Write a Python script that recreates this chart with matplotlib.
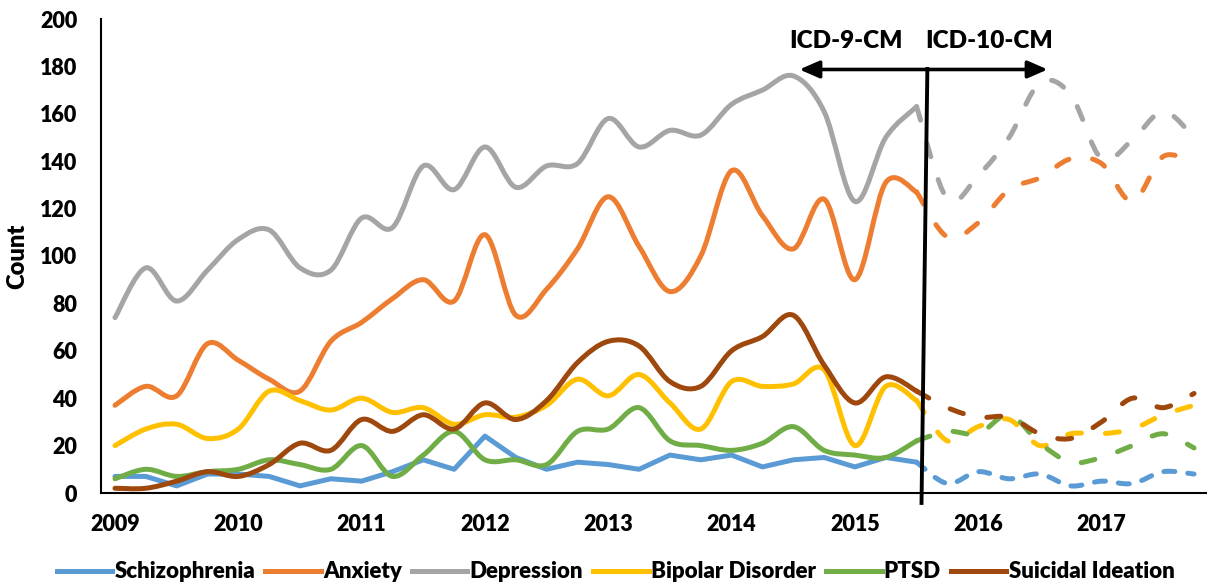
import numpy as np
import matplotlib
matplotlib.use("Agg")
import matplotlib.pyplot as plt
from matplotlib.path import Path
from matplotlib.patches import PathPatch
from matplotlib.lines import Line2D

plt.rcParams['font.family'] = ['Lato', 'DejaVu Sans']
plt.rcParams['font.weight'] = 'heavy'

# quarterly counts, 2009 Q1 .. 2017 Q4 (index 26 = 2015 Q3 is shared by both codings)
years = ['2009', '2010', '2011', '2012', '2013', '2014', '2015', '2016', '2017']
names = ['Schizophrenia', 'Anxiety', 'Depression', 'Bipolar Disorder', 'PTSD',
         'Suicidal Ideation']
colors = ['#5B9BD5', '#ED7D31', '#A5A5A5', '#FFC000', '#70AD47', '#9E480E']

schizophrenia = [7, 7, 3, 8, 8, 7, 3, 6, 5, 9, 14, 10, 24, 15, 10, 13, 12, 10,
                 16, 14, 16, 11, 14, 15, 11, 15, 13, 4, 9, 6, 8, 3, 5, 4, 9, 8]
anxiety = [37, 45, 41, 63, 56, 48, 43, 64, 72, 82, 90, 81, 109, 75, 86, 103, 125,
           104, 85, 100, 136, 117, 103, 124, 90, 131, 127,
           108, 114, 128, 133, 141, 139, 123, 142, 139]
depression = [74, 95, 81, 94, 107, 111, 95, 94, 116, 112, 138, 128, 146, 129,
              138, 139, 158, 146, 153, 151, 164, 170, 176, 161, 123, 150, 163,
              124, 134, 150, 173, 168, 141, 149, 161, 150]
bipolar = [20, 27, 29, 23, 27, 43, 39, 35, 40, 34, 36, 29, 33, 32, 37, 48, 41,
           50, 38, 27, 47, 45, 46, 52, 20, 45, 39, 22, 28, 31, 20, 25, 25, 27,
           33, 37]
ptsd = [6, 10, 7, 9, 10, 14, 12, 10, 20, 7, 16, 26, 14, 14, 12, 26, 27, 36, 22,
        20, 18, 21, 28, 18, 16, 15, 22, 26, 25, 33, 21, 13, 15, 20, 25, 19]
suicidal = [2, 2, 5, 9, 7, 12, 21, 18, 31, 26, 33, 27, 38, 31, 39, 55, 64, 62,
            47, 45, 60, 66, 75, 54, 38, 49, 43, 36, 32, 32, 25, 23, 30, 40, 36, 42]
series = [schizophrenia, anxiety, depression, bipolar, ptsd, suicidal]
switch = 26  # last ICD-9-CM quarter


def smooth_path(xs, ys):
    # excel-like smoothed line: catmull-rom as cubic bezier
    pts = np.column_stack([xs, ys]).astype(float)
    n = len(pts)
    verts = [pts[0]]
    codes = [Path.MOVETO]
    for i in range(n - 1):
        p0 = pts[max(i - 1, 0)]
        p1 = pts[i]
        p2 = pts[i + 1]
        p3 = pts[min(i + 2, n - 1)]
        verts += [p1 + (p2 - p0) / 6, p2 - (p3 - p1) / 6, p2]
        codes += [Path.CURVE4] * 3
    return Path(verts, codes)


fig = plt.figure(figsize=(12.07, 5.85), dpi=100)
ax = fig.add_axes([101 / 1207, 1 - 493 / 585, 1106 / 1207, 474 / 585])

lw = 3.6
x = np.arange(len(schizophrenia))
for k, (vals, c) in enumerate(zip(series, colors)):
    v = np.array(vals, dtype=float)
    if k == 0:
        ax.plot(x[:switch + 1], v[:switch + 1], color=c, lw=lw,
                solid_joinstyle='round', solid_capstyle='round', zorder=2)
    else:
        ax.add_patch(PathPatch(smooth_path(x[:switch + 1], v[:switch + 1]),
                               fill=False, edgecolor=c, lw=lw, capstyle='round',
                               joinstyle='round', zorder=2))
# ICD-10-CM part, dashed (schizophrenia uses shorter dashes)
for k, (vals, c) in enumerate(zip(series, colors)):
    v = np.array(vals, dtype=float)
    dash = (0, (2.2, 2.6)) if k == 0 else (0, (2.8, 4.8))
    ax.add_patch(PathPatch(smooth_path(x[switch:], v[switch:]), fill=False,
                           edgecolor=c, lw=lw, linestyle=dash,
                           capstyle='round', joinstyle='round', zorder=3))

ax.set_xlim(-0.454, 35.42)
ax.set_ylim(0, 200)
ax.set_yticks(range(0, 201, 20))
ax.set_xticks(range(0, len(schizophrenia), 4))
ax.set_xticklabels(years)
ax.tick_params(axis='both', length=0, labelsize=15.5)
ax.tick_params(axis='y', pad=17)
ax.tick_params(axis='x', pad=15)
for s in ['top', 'right']:
    ax.spines[s].set_visible(False)
for s in ['left', 'bottom']:
    ax.spines[s].set_linewidth(1.5)
    ax.spines[s].set_color('black')
ax.set_ylabel('Count', fontsize=17, fontweight='heavy')
ax.yaxis.set_label_coords(-0.066, 0.5)

# ICD coding change marker
ax.plot([26.35, 26.16], [178.9, -4.2], color='black', lw=2.8, clip_on=False,
        zorder=4)
ax.annotate('', xy=(22.2, 178.7), xytext=(30.25, 178.7),
            arrowprops=dict(arrowstyle='<|-|>,head_length=0.8,head_width=0.35',
                            color='black', lw=2.6, mutation_scale=15,
                            shrinkA=0, shrinkB=0), zorder=4)
ax.text(23.71, 190.9, 'ICD-9-CM', ha='center', va='center', fontsize=17.5,
        fontweight='heavy')
ax.text(28.35, 190.9, 'ICD-10-CM', ha='center', va='center', fontsize=17.5,
        fontweight='heavy')

handles = [Line2D([], [], color=c, lw=lw) for c in colors]
fig.legend(handles, names, loc='center', bbox_to_anchor=(0.51, 1 - 572 / 585),
           ncol=6, frameon=False, handlelength=2.5,
           handletextpad=0.1, columnspacing=0.45,
           prop={'weight': 'heavy', 'size': 16})

fig.savefig('out.png', dpi=100)
